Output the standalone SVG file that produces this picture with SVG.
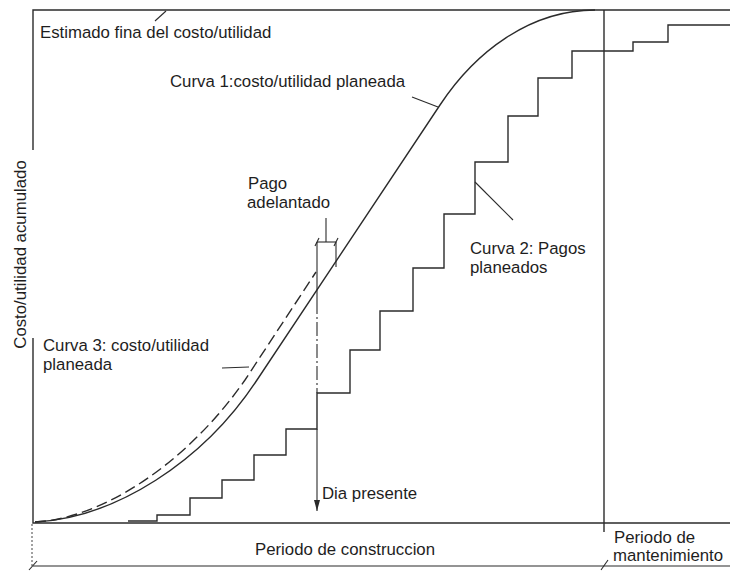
<svg xmlns="http://www.w3.org/2000/svg" width="730" height="571" viewBox="0 0 730 571">
  <style>
    .ln { fill: none; stroke: #2b2b2b; stroke-width: 1.4; stroke-linecap: butt; stroke-linejoin: miter; }
    .thin { fill: none; stroke: #2b2b2b; stroke-width: 1.1; }
    .dash { stroke-dasharray: 11 5; }
    .dashdot { stroke-dasharray: 14 3 2 3; }
    .dot { stroke-dasharray: 2 2; stroke: #555; }
    .t { font-family: "Liberation Sans", Arial, sans-serif; font-size: 16.8px; fill: #1e1e1e; }
  </style>
  <defs>
    <marker id="arrowDown" markerWidth="8" markerHeight="12" refX="3" refY="11" orient="0" markerUnits="userSpaceOnUse">
      <path d="M0,0 L6,0 L3,11 Z" fill="#2b2b2b"/>
    </marker>
  </defs>
  <rect width="730" height="571" fill="#ffffff"/>

  <!-- frame, axes and period divisions -->
  <g id="frame">
    <path class="ln" d="M33,150 V10 H730"/>
    <path class="ln" d="M33,338 V523 H730"/>
    <path class="ln" d="M604,10 V532"/>
    <path class="thin dot" d="M32,524 V566"/>
    <path class="thin" d="M33,566 H730"/>
    <path class="thin" d="M29,570 L37,561"/>
    <path class="thin" d="M601,570 L608,560"/>
  </g>

  <!-- curve 1: planned cost/utility (solid S-curve) -->
  <g id="curva1">
    <path class="ln" d="M35,522 C115,518 203,462 257,380 L440,105 C475,52 530,10 595,10"/>
  </g>

  <!-- curve 3: planned cost/utility (dashed) -->
  <g id="curva3">
    <path class="ln dash" d="M35,522 C100,519 185,466 245,380 L316,272"/>
  </g>

  <!-- curve 2: planned payments (staircase) -->
  <g id="curva2">
    <path class="ln" d="M128,521 H157 V515 H190 V498 H222 V480 H254 V455 H286 V429 H317 V393 H350 V350 H380 V311 H413 V268 H444 V214 H475 V162 H508 V116 H538 V78 H572 V51 H633 V42 H668 V25 H730"/>
  </g>

  <!-- present day marker and advance payment dimension -->
  <g id="dia-presente">
    <path class="thin" d="M317,242 V300"/>
    <path class="thin dashdot" d="M317,300 V393"/>
    <path class="thin" d="M317,429 V511" marker-end="url(#arrowDown)"/>
  </g>
  <g id="pago-adelantado">
    <path class="thin" d="M317,242 H336"/>
    <path class="thin" d="M336,242 V267"/>
    <path class="thin" d="M326,218 V242"/>
    <path class="thin" d="M315,246 L319,238"/>
    <path class="thin" d="M334,246 L338,238"/>
  </g>

  <!-- connectors: label leaders -->
  <g id="connectors">
    <path class="thin" d="M155,21 L166,11"/>
    <path class="thin" d="M412,97 L438,107"/>
    <path class="thin" d="M475,182 L513,220"/>
    <path class="thin" d="M222,368 L249,367"/>
  </g>

  <!-- labels -->
  <g id="label-estimado"><text class="t" x="40" y="38">Estimado fina del costo/utilidad</text></g>
  <g id="label-curva1"><text class="t" x="170" y="87">Curva 1:costo/utilidad planeada</text></g>
  <g id="label-pago">
    <text class="t" x="248" y="189">Pago</text>
    <text class="t" x="247" y="208">adelantado</text>
  </g>
  <g id="label-curva2">
    <text class="t" x="470" y="254">Curva 2: Pagos</text>
    <text class="t" x="470" y="273">planeados</text>
  </g>
  <g id="label-curva3">
    <text class="t" x="43" y="351">Curva 3: costo/utilidad</text>
    <text class="t" x="43" y="370">planeada</text>
  </g>
  <g id="label-dia"><text class="t" x="322" y="499">Dia presente</text></g>
  <g id="label-construccion"><text class="t" x="255" y="555">Periodo de construccion</text></g>
  <g id="label-mantenimiento">
    <text class="t" x="614" y="543">Periodo de</text>
    <text class="t" x="613" y="561">mantenimiento</text>
  </g>
  <g id="label-eje-y">
    <text class="t" transform="translate(26,254.5) rotate(-90)" text-anchor="middle">Costo/utilidad acumulado</text>
  </g>
</svg>
